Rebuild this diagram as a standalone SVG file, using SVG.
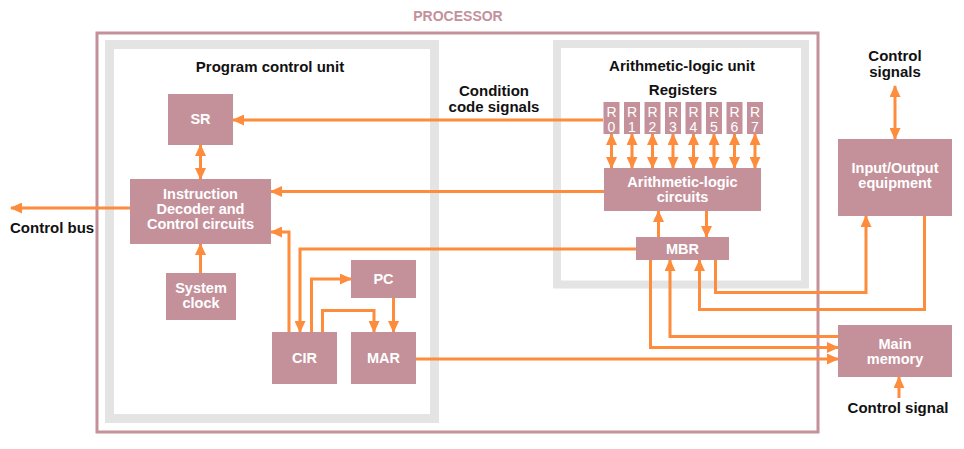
<svg xmlns="http://www.w3.org/2000/svg" width="964" height="449" viewBox="0 0 964 449">
<defs>
<marker id="ah" viewBox="0 0 12 11" refX="11" refY="5.5" markerWidth="12" markerHeight="11" markerUnits="userSpaceOnUse" orient="auto-start-reverse">
<path d="M0,0 L12,5.5 L0,11 Z" fill="#fd8c3c"/>
</marker>
</defs>
<style>
.lbl{font-family:"Liberation Sans",Arial,sans-serif;font-weight:bold;font-size:15px;fill:#111;text-anchor:middle}
.nt{font-family:"Liberation Sans",Arial,sans-serif;font-weight:bold;font-size:14.5px;fill:#fff;text-anchor:middle}
.rt{font-family:"Liberation Sans",Arial,sans-serif;font-size:14px;fill:#fff;text-anchor:middle}
.box{fill:#c4919b}
.c{fill:none;stroke:#fd8c3c;stroke-width:3}
.e{marker-end:url(#ah)}
.b{marker-start:url(#ah);marker-end:url(#ah)}
</style>
<rect width="964" height="449" fill="#fff"/>
<g id="processor">
<rect x="97" y="33" width="721" height="399" fill="none" stroke="#c4919b" stroke-width="3"/>
<text x="458" y="21" class="lbl" style="fill:#c4919b;font-size:14px">PROCESSOR</text>
</g>
<g id="program-control-unit">
<rect x="109.5" y="44.5" width="325" height="374" fill="none" stroke="#e4e4e4" stroke-width="9"/>
<text x="270" y="72" class="lbl">Program control unit</text>
</g>
<g id="alu-unit">
<rect x="557" y="44" width="248" height="240.5" fill="none" stroke="#e4e4e4" stroke-width="8"/>
<text x="682" y="71" class="lbl">Arithmetic-logic unit</text>
<text x="683" y="95" class="lbl">Registers</text>
</g>
<g id="labels">
<text x="494" y="96" class="lbl">Condition</text>
<text x="494" y="112" class="lbl">code signals</text>
<text x="895" y="61" class="lbl">Control</text>
<text x="895" y="77" class="lbl">signals</text>
<text x="10" y="233" class="lbl" style="text-anchor:start">Control bus</text>
<text x="898" y="413" class="lbl">Control signal</text>
</g>
<g id="sr"><rect class="box" x="168" y="94" width="65" height="51"/><text x="200.5" y="124" class="nt">SR</text></g>
<g id="decoder"><rect class="box" x="130" y="179" width="141" height="65"/>
<text x="200.5" y="199" class="nt">Instruction</text><text x="200.5" y="214" class="nt">Decoder and</text><text x="200.5" y="229" class="nt">Control circuits</text></g>
<g id="clock"><rect class="box" x="166" y="273" width="70" height="47"/>
<text x="201" y="293" class="nt">System</text><text x="201" y="308" class="nt">clock</text></g>
<g id="pc"><rect class="box" x="351" y="260" width="65" height="38"/><text x="383.5" y="284" class="nt">PC</text></g>
<g id="cir"><rect class="box" x="272" y="332" width="65" height="52"/><text x="304.5" y="363" class="nt">CIR</text></g>
<g id="mar"><rect class="box" x="351" y="332" width="65" height="52"/><text x="383.5" y="363" class="nt">MAR</text></g>
<g id="registers">
<g id="r0"><rect class="box" x="603.5" y="102" width="16" height="32"/><text x="611.5" y="117" class="rt">R</text><text x="611.5" y="131.5" class="rt">0</text></g>
<g id="r1"><rect class="box" x="624" y="102" width="16" height="32"/><text x="632" y="117" class="rt">R</text><text x="632" y="131.5" class="rt">1</text></g>
<g id="r2"><rect class="box" x="644.5" y="102" width="16" height="32"/><text x="652.5" y="117" class="rt">R</text><text x="652.5" y="131.5" class="rt">2</text></g>
<g id="r3"><rect class="box" x="665" y="102" width="16" height="32"/><text x="673" y="117" class="rt">R</text><text x="673" y="131.5" class="rt">3</text></g>
<g id="r4"><rect class="box" x="685.5" y="102" width="16" height="32"/><text x="693.5" y="117" class="rt">R</text><text x="693.5" y="131.5" class="rt">4</text></g>
<g id="r5"><rect class="box" x="706" y="102" width="16" height="32"/><text x="714" y="117" class="rt">R</text><text x="714" y="131.5" class="rt">5</text></g>
<g id="r6"><rect class="box" x="726.5" y="102" width="16" height="32"/><text x="734.5" y="117" class="rt">R</text><text x="734.5" y="131.5" class="rt">6</text></g>
<g id="r7"><rect class="box" x="747" y="102" width="16" height="32"/><text x="755" y="117" class="rt">R</text><text x="755" y="131.5" class="rt">7</text></g>
</g>
<g id="alc"><rect class="box" x="604" y="168" width="157" height="43"/>
<text x="682.5" y="187" class="nt">Arithmetic-logic</text><text x="682.5" y="201.5" class="nt">circuits</text></g>
<g id="mbr"><rect class="box" x="636" y="237" width="93" height="23"/><text x="682.5" y="254" class="nt">MBR</text></g>
<g id="io"><rect class="box" x="838" y="139" width="114" height="77"/>
<text x="895" y="173" class="nt">Input/Output</text><text x="895" y="188" class="nt">equipment</text></g>
<g id="memory"><rect class="box" x="838" y="325" width="114" height="52"/>
<text x="895" y="349" class="nt">Main</text><text x="895" y="364" class="nt">memory</text></g>
<g id="connectors">
<path class="c e" d="M603,120 H233"/>
<path class="c e" d="M604,191.5 H271"/>
<path class="c b" d="M200.5,145 V179"/>
<path class="c e" d="M200.5,273 V244"/>
<path class="c e" d="M130,208 H11"/>
<path class="c e" d="M289,332 V232 H271"/>
<path class="c e" d="M636,249 H300 V332"/>
<path class="c e" d="M311.5,332 V279 H351"/>
<path class="c e" d="M322.5,332 V310.5 H374 V332"/>
<path class="c e" d="M393.5,298 V332"/>
<path class="c e" d="M416,359 H838"/>
<path class="c b" d="M611.5,134 V168"/>
<path class="c b" d="M632,134 V168"/>
<path class="c b" d="M652.5,134 V168"/>
<path class="c b" d="M673,134 V168"/>
<path class="c b" d="M693.5,134 V168"/>
<path class="c b" d="M714,134 V168"/>
<path class="c b" d="M734.5,134 V168"/>
<path class="c b" d="M755,134 V168"/>
<path class="c e" d="M658.5,237 V211"/>
<path class="c e" d="M706.5,211 V237"/>
<path class="c e" d="M650.5,260 V347.5 H838"/>
<path class="c e" d="M838,336.5 H670 V260"/>
<path class="c e" d="M924.5,216 V309.5 H699.5 V260"/>
<path class="c e" d="M715.5,260 V292.5 H866 V216"/>
<path class="c b" d="M895,86 V139"/>
<path class="c e" d="M899,398 V377"/>
</g>
</svg>
